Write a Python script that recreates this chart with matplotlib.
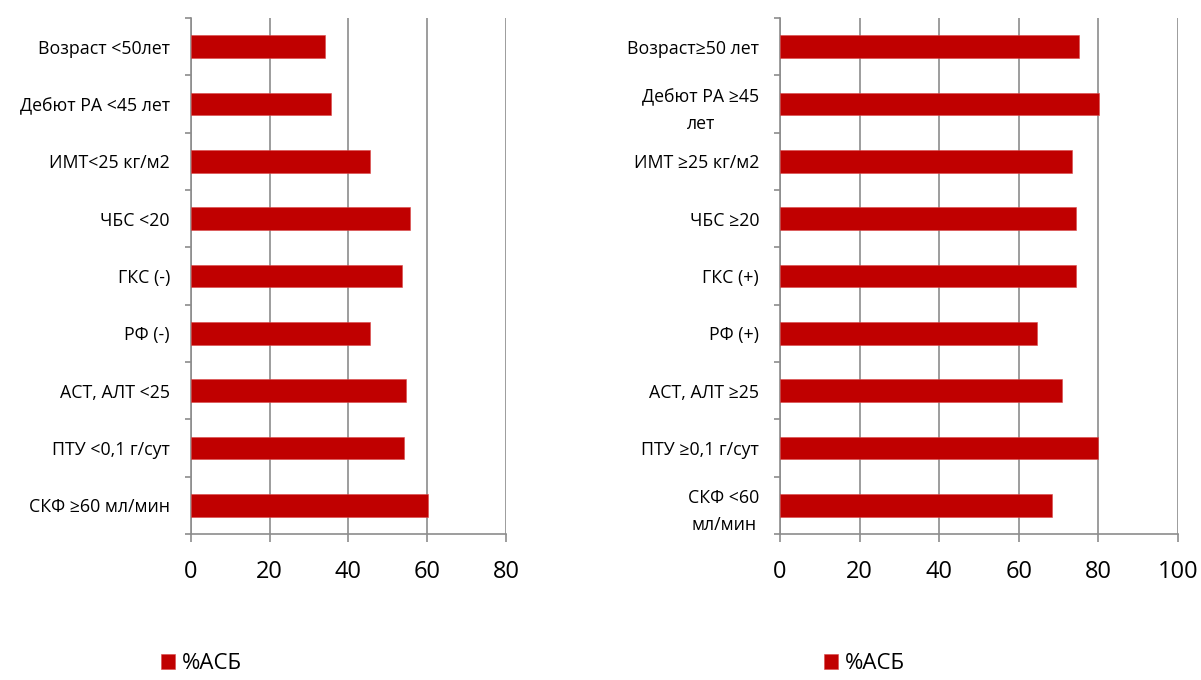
import numpy as np
import matplotlib.pyplot as plt
from matplotlib.ticker import FixedLocator

plt.rcParams['font.family'] = ['Open Sans', 'Noto Sans', 'DejaVu Sans']

# %АСБ by patient subgroup
labels_left = ['Возраст <50лет', 'Дебют РА <45 лет', 'ИМТ<25 кг/м2', 'ЧБС <20',
               'ГКС (-)', 'РФ (-)', 'АСТ, АЛТ <25', 'ПТУ <0,1 г/сут', 'СКФ ≥60 мл/мин']
values_left = [34.0, 35.5, 45.5, 55.6, 53.7, 45.6, 54.7, 54.1, 60.1]

labels_right = ['Возраст≥50 лет', 'Дебют РА ≥45\nлет', 'ИМТ ≥25 кг/м2', 'ЧБС ≥20',
                'ГКС (+)', 'РФ (+)', 'АСТ, АЛТ ≥25', 'ПТУ ≥0,1 г/сут', 'СКФ <60\nмл/мин']
values_right = [75.2, 80.2, 73.4, 74.4, 74.4, 64.6, 70.8, 80.0, 68.3]

series_name = '%АСБ'
bar_color = '#C00000'
grid_color = '#8C8C8C'

fig = plt.figure(figsize=(12.01, 6.8), dpi=100)
ax1 = fig.add_axes([0.1588, 0.2147, 0.2625, 0.7588])
ax2 = fig.add_axes([0.6495, 0.2147, 0.3313, 0.7588])


def draw(ax, labels, values, xmax, legend_x):
    y = np.arange(len(labels))
    bars = ax.barh(y, values, height=0.4, color=bar_color, label=series_name,
                   edgecolor='#D84848', linewidth=0.4, zorder=3)
    ax.set_ylim(len(labels) - 0.5, -0.5)
    ax.set_xlim(0, xmax)
    ax.set_xticks(np.arange(0, xmax + 1, 20))
    ax.xaxis.grid(True, color=grid_color, linewidth=1.2, zorder=0)
    ax.set_yticks(y)
    ax.set_yticklabels(labels, fontsize=12.8, multialignment='center', linespacing=1.65)
    ax.yaxis.set_minor_locator(FixedLocator(np.arange(len(labels) + 1) - 0.5))
    ax.tick_params(axis='y', which='major', length=0, pad=15)
    ax.tick_params(axis='y', which='minor', length=4, width=1.2, color=grid_color)
    ax.tick_params(axis='x', length=6, width=1.2, color=grid_color, pad=13, labelsize=17)
    for side in ('top', 'right'):
        ax.spines[side].set_visible(False)
    for side in ('left', 'bottom'):
        ax.spines[side].set_color(grid_color)
        ax.spines[side].set_linewidth(1.2)
    ax.legend(handles=[bars], loc='center left', bbox_to_anchor=(legend_x, 0.024),
              bbox_transform=fig.transFigure, frameon=False, fontsize=16,
              handlelength=0.64, handleheight=0.64, handletextpad=0.32, borderpad=0)


draw(ax1, labels_left, values_left, 80, 0.1245)
draw(ax2, labels_right, values_right, 100, 0.6765)

fig.savefig('out.png', dpi=100)
